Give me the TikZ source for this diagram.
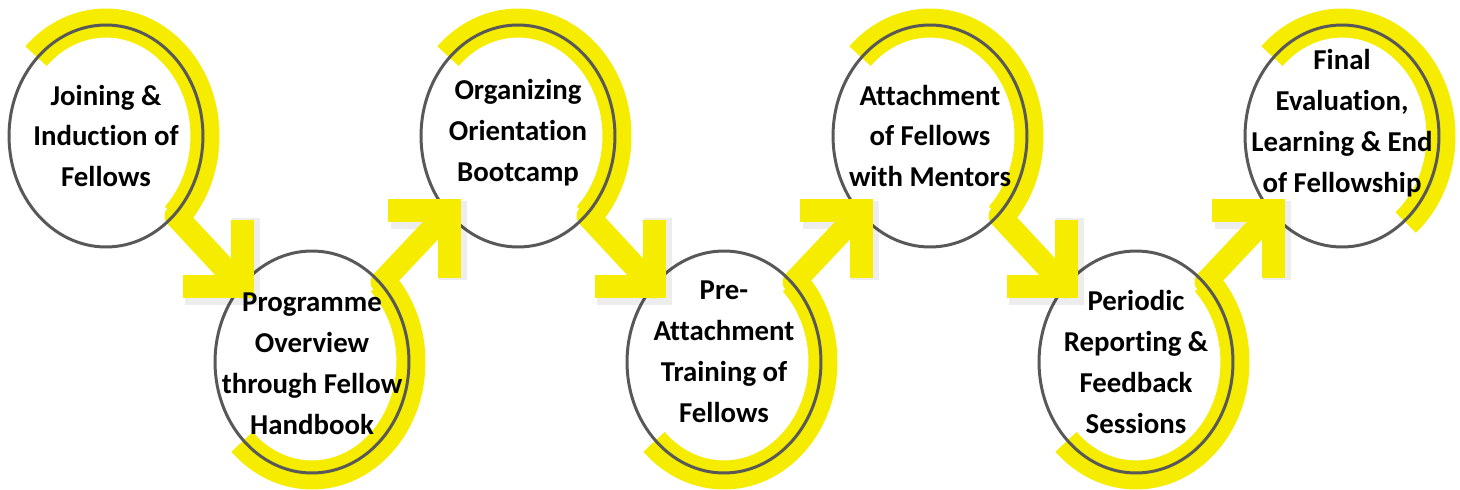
\documentclass[tikz,border=0pt]{standalone}
\usepackage{fontspec}
\setmainfont[Ligatures=NoCommon]{Carlito}
\usetikzlibrary{shapes.geometric,calc}
\definecolor{ylw}{RGB}{245,236,0}
\definecolor{ringc}{RGB}{88,88,88}
\begin{document}
\begin{tikzpicture}[x=0.02cm,y=0.02cm,
  ring/.style={draw=ringc, line width=1.7pt, ellipse, minimum width=3.88cm, minimum height=4.44cm, inner sep=0pt},
  band/.style={draw=ylw, line width=0.58cm},
  shaft/.style={draw=ylw, line width=0.46cm, line cap=round},
  head/.style={draw=ylw, line width=0.46cm, line join=miter, line cap=butt},
  headshadow/.style={draw=black, opacity=0.07, line width=0.56cm, line join=miter, line cap=butt},
  lbl/.style={font=\bfseries\fontsize{16.4}{23.3}\selectfont, align=center, inner sep=0pt, text=black}]
\fill[white] (0,0) rectangle (1460,490);
\useasboundingbox (0,0) rectangle (1460,490);
\coordinate (p1) at (106,354);
\coordinate (p2) at (312,128);
\coordinate (p3) at (518,354);
\coordinate (p4) at (724,128);
\coordinate (p5) at (930,354);
\coordinate (p6) at (1136,128);
\coordinate (p7) at (1342,354);
% step 7
\draw[band] (p7) ++(135:1.98cm and 2.26cm) arc[start angle=135, end angle=-50, x radius=1.98cm, y radius=2.26cm];
\node[ring] (c7) at (p7) {};
% step 6 (bottom)
\draw[band] (p6) ++(45:1.98cm and 2.26cm) arc[start angle=45, end angle=-135, x radius=1.98cm, y radius=2.26cm];
\draw[headshadow] ($(p6)+(79,147)$) -- ($(p6)+(141,147)$) -- ($(p6)+(141,82)$);
\draw[shaft] ($(p6)+(70,80)$) -- ($(p6)+(137,151)$);
\draw[head] ($(p6)+(76,151)$) -- ($(p6)+(137,151)$) -- ($(p6)+(137,84)$);
\node[ring] (c6) at (p6) {};
% step 5 (top)
\draw[band] (p5) ++(135:1.98cm and 2.26cm) arc[start angle=135, end angle=-45, x radius=1.98cm, y radius=2.26cm];
\draw[headshadow] ($(p5)+(140,-82)$) -- ($(p5)+(140,-155)$) -- ($(p5)+(79,-155)$);
\draw[shaft] ($(p5)+(70,-80)$) -- ($(p5)+(136,-151)$);
\draw[head] ($(p5)+(136,-84)$) -- ($(p5)+(136,-151)$) -- ($(p5)+(77,-151)$);
\node[ring] (c5) at (p5) {};
% step 4 (bottom)
\draw[band] (p4) ++(45:1.98cm and 2.26cm) arc[start angle=45, end angle=-135, x radius=1.98cm, y radius=2.26cm];
\draw[headshadow] ($(p4)+(79,147)$) -- ($(p4)+(141,147)$) -- ($(p4)+(141,82)$);
\draw[shaft] ($(p4)+(70,80)$) -- ($(p4)+(137,151)$);
\draw[head] ($(p4)+(76,151)$) -- ($(p4)+(137,151)$) -- ($(p4)+(137,84)$);
\node[ring] (c4) at (p4) {};
% step 3 (top)
\draw[band] (p3) ++(135:1.98cm and 2.26cm) arc[start angle=135, end angle=-45, x radius=1.98cm, y radius=2.26cm];
\draw[headshadow] ($(p3)+(140,-82)$) -- ($(p3)+(140,-155)$) -- ($(p3)+(79,-155)$);
\draw[shaft] ($(p3)+(70,-80)$) -- ($(p3)+(136,-151)$);
\draw[head] ($(p3)+(136,-84)$) -- ($(p3)+(136,-151)$) -- ($(p3)+(77,-151)$);
\node[ring] (c3) at (p3) {};
% step 2 (bottom)
\draw[band] (p2) ++(45:1.98cm and 2.26cm) arc[start angle=45, end angle=-135, x radius=1.98cm, y radius=2.26cm];
\draw[headshadow] ($(p2)+(79,147)$) -- ($(p2)+(141,147)$) -- ($(p2)+(141,82)$);
\draw[shaft] ($(p2)+(70,80)$) -- ($(p2)+(137,151)$);
\draw[head] ($(p2)+(76,151)$) -- ($(p2)+(137,151)$) -- ($(p2)+(137,84)$);
\node[ring] (c2) at (p2) {};
% step 1 (top)
\draw[band] (p1) ++(135:1.98cm and 2.26cm) arc[start angle=135, end angle=-45, x radius=1.98cm, y radius=2.26cm];
\draw[headshadow] ($(p1)+(140,-82)$) -- ($(p1)+(140,-155)$) -- ($(p1)+(79,-155)$);
\draw[shaft] ($(p1)+(70,-80)$) -- ($(p1)+(136,-151)$);
\draw[head] ($(p1)+(136,-84)$) -- ($(p1)+(136,-151)$) -- ($(p1)+(77,-151)$);
\node[ring] (c1) at (p1) {};
% labels
\node[lbl] (t1) at ($(c1.center)+(0,0)$) {Joining \&\\Induction of\\Fellows};
\node[lbl] (t2) at ($(c2.center)+(0,-2)$) {Programme\\Overview\\through Fellow\\Handbook};
\node[lbl] (t3) at ($(c3.center)+(0,3)$) {Organizing\\Orientation\\Bootcamp};
\node[lbl] (t4) at ($(c4.center)+(0,10)$) {Pre-\\Attachment\\Training of\\Fellows};
\node[lbl] (t5) at ($(c5.center)+(0,0)$) {Attachment\\of Fellows\\with Mentors};
\node[lbl] (t6) at ($(c6.center)+(0,0)$) {Periodic\\Reporting \&\\Feedback\\Sessions};
\node[lbl] (t7) at ($(c7.center)+(0,13)$) {Final\\Evaluation,\\Learning \& End\\of Fellowship};
\end{tikzpicture}
\end{document}
